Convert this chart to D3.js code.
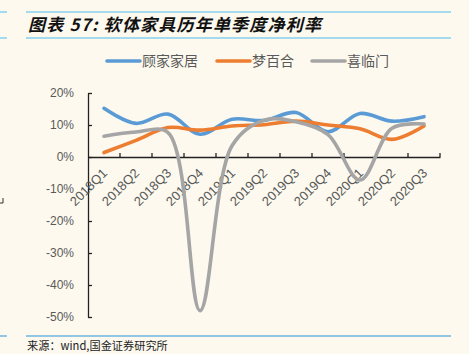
<!DOCTYPE html>
<html>
<head>
<meta charset="utf-8">
<script src="https://cdn.jsdelivr.net/npm/d3@7"></script>
<style>
  html, body { margin: 0; padding: 0; background: #fdf9ef; }
  svg { display: block; }
</style>
</head>
<body>
<div class="chart"></div>
<script>
// quarters and net margin (%) per company
const quarters = ['2018Q1', '2018Q2', '2018Q3', '2018Q4', '2019Q1', '2019Q2', '2019Q3', '2019Q4', '2020Q1', '2020Q2', '2020Q3'];
const gujia = [15.2, 10.5, 13.4, 7.1, 11.8, 11.4, 13.9, 7.9, 13.6, 11.2, 12.6];
const mengbaihe = [1.4, 5.2, 9.2, 8.4, 9.7, 10.1, 11.2, 10.0, 8.8, 5.5, 9.7];
const xilinmen = [6.5, 7.8, 7.6, -48, 3.5, 11.5, 11.0, 7.0, -7.2, 9.0, 10.3];
const seriesNames = ['顾家家居', '梦百合', '喜临门'];
const yTicks = [20, 10, 0, -10, -20, -30, -40, -50];

const W = 469, H = 354;
const plot = { left: 88, right: 440, top: 93, bottom: 317 };
const colors = ['#5b9bd5', '#ed7d31', '#a5a5a5'];
const txt = '#595959';

const svg = d3.select('.chart').append('svg').attr('width', W).attr('height', H);
svg.append('rect').attr('width', W).attr('height', H).attr('fill', '#fdf9ef');

// header / footer rules
const rule = (y, c) => {
    svg.append('line').attr('x1', 26).attr('x2', 451).attr('y1', y).attr('y2', y).attr('stroke', c).attr('stroke-width', 1.5);
    svg.append('line').attr('x1', 0).attr('x2', 7).attr('y1', y).attr('y2', y).attr('stroke', c).attr('stroke-width', 1.5);
};
rule(12, '#86cfee');
rule(38, '#86cfee');
rule(336, '#6cb6e2');

svg.append('text').attr('x', 28).attr('y', 31)
    .attr('font-family', 'Noto Sans CJK SC').attr('font-size', 17).attr('font-weight', 'bold')
    .attr('font-style', 'italic').attr('fill', '#111').attr('letter-spacing', 1.2)
    .text('图表 57:  软体家具历年单季度净利率');

svg.append('text').attr('x', 27).attr('y', 350)
    .attr('font-family', 'Noto Sans CJK SC').attr('font-size', 11.2).attr('fill', '#222')
    .text('来源：wind,国金证券研究所');

// little stray mark on the left edge
svg.append('path').attr('d', 'M3,198V203H0').attr('fill', 'none').attr('stroke', '#333').attr('stroke-width', 1);

const x = d3.scaleBand().domain(quarters).range([plot.left, plot.right]);
const y = d3.scaleLinear().domain([-50, 20]).range([plot.bottom, plot.top]);

// y axis
const yAxis = svg.append('g').attr('transform', `translate(${plot.left},0)`)
    .call(d3.axisLeft(y).tickValues(yTicks).tickSize(-4).tickSizeOuter(0).tickPadding(14).tickFormat(d => d + '%'));
yAxis.select('.domain').attr('stroke', '#222').attr('stroke-width', 1.3);
yAxis.selectAll('.tick line').attr('stroke', '#222').attr('stroke-width', 1.3);
yAxis.selectAll('text').attr('font-family', 'Liberation Sans').attr('font-size', 12).attr('fill', txt);

// x axis at zero
const xAxis = svg.append('g').attr('transform', `translate(0,${y(0)})`)
    .call(d3.axisBottom(x).tickSize(0).tickSizeOuter(0));
xAxis.select('.domain').attr('stroke', '#222').attr('stroke-width', 1.3);
xAxis.selectAll('.tick line').remove();
xAxis.selectAll('.tick text')
    .attr('font-family', 'Liberation Sans').attr('font-size', 13).attr('fill', txt)
    .attr('text-anchor', 'end').attr('dy', null).attr('y', 0)
    .attr('transform', 'translate(4,17) rotate(-45)');
// tick marks between categories, pointing up
svg.append('g').selectAll('line')
    .data(quarters.map((q, i) => i + 1))
    .enter().append('line')
    .attr('x1', i => plot.left + i * x.step()).attr('x2', i => plot.left + i * x.step())
    .attr('y1', y(0)).attr('y2', y(0) - 4)
    .attr('stroke', '#222').attr('stroke-width', 1.3);

// lines
const line = d3.line()
    .x((d, i) => x(quarters[i]) + x.bandwidth() / 2)
    .y(d => y(d))
    .curve(d3.curveCatmullRom);

[gujia, mengbaihe, xilinmen].forEach((s, k) => {
    svg.append('path').datum(s)
        .attr('d', line)
        .attr('fill', 'none')
        .attr('stroke', colors[k])
        .attr('stroke-width', 3.6)
        .attr('stroke-linecap', 'round');
});

// legend
const legX = [107, 217, 312];
const lg = svg.append('g').selectAll('g').data(seriesNames).enter().append('g')
    .attr('transform', (d, i) => `translate(${legX[i]},61)`);
lg.append('line').attr('x1', 0).attr('x2', 33).attr('stroke', (d, i) => colors[i]).attr('stroke-width', 3.6).attr('stroke-linecap', 'round');
lg.append('text').attr('x', 35).attr('y', 5)
    .attr('font-family', 'Noto Sans CJK SC').attr('font-size', 14).attr('fill', txt)
    .text(d => d);
</script>
</body>
</html>
